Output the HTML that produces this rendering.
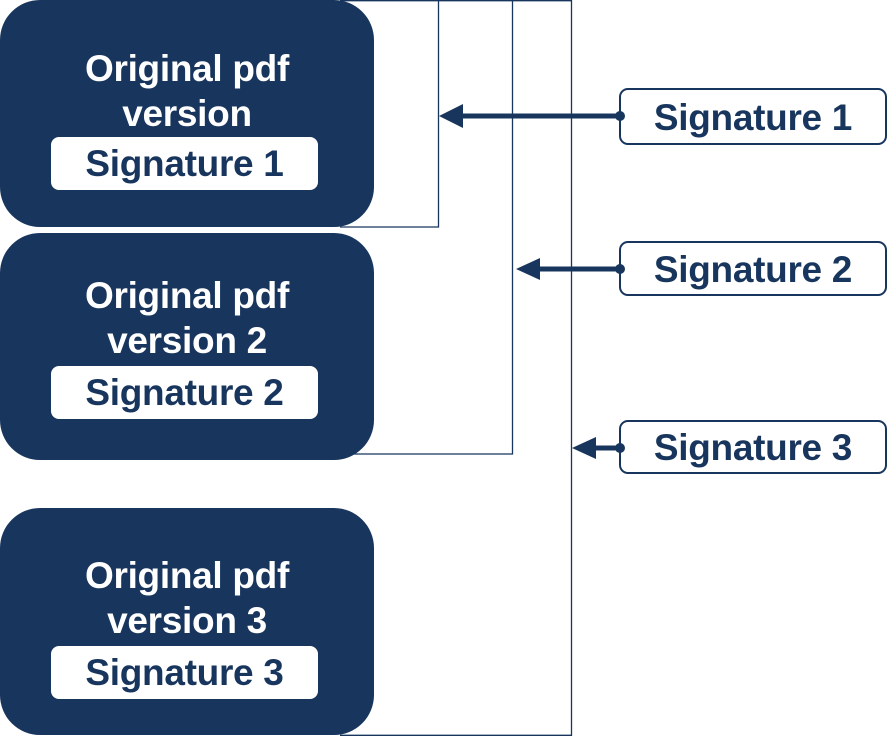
<!DOCTYPE html>
<html><head><style>
body{margin:0;width:889px;height:736px;background:#fff;overflow:hidden;position:relative;font-family:"Liberation Sans",sans-serif}
.b{position:absolute;left:0;width:374px;height:227px;background:#18365d;border-radius:40px;color:#fff;font-weight:bold;font-size:37px;text-align:center;line-height:45px;letter-spacing:-0.3px}
.b .t{position:absolute;top:46px;left:0;right:0}
.w{position:absolute;left:51px;width:267px;height:53px;background:#fff;border-radius:8px;color:#18365d;line-height:54px;font-size:37px}
.r{position:absolute;left:619px;width:268px;box-sizing:border-box;border:2px solid #18365d;border-radius:9px;color:#18365d;font-weight:bold;font-size:37px;text-align:center;letter-spacing:-0.3px}
</style></head><body>
<svg width="889" height="736" style="position:absolute;left:0;top:0">
<g stroke="#18365d" stroke-width="1.3" fill="none">
<path d="M340 0.7H571.5V735.3H340"/>
<path d="M438.5 0V227H340"/>
<path d="M512.5 0V454H340"/>
</g>
<g stroke="#18365d" stroke-width="5">
<line x1="620" y1="116" x2="458" y2="116"/>
<line x1="620" y1="269" x2="532" y2="269"/>
<line x1="620" y1="448" x2="588" y2="448"/>
</g>
<g fill="#18365d">
<polygon points="439,116 463,104 463,128"/>
<polygon points="516,269 540,258 540,280"/>
<polygon points="572,448 596,437 596,459"/>
<circle cx="620" cy="116" r="5"/><circle cx="620" cy="269" r="5"/><circle cx="620" cy="448" r="5"/>
</g>
</svg>
<div class="b" style="top:0"><div class="t">Original pdf<br>version</div><div class="w" style="top:137px">Signature 1</div></div>
<div class="b" style="top:233px"><div class="t" style="top:40px">Original pdf<br>version 2</div><div class="w" style="top:133px">Signature 2</div></div>
<div class="b" style="top:508px"><div class="t" style="top:45px">Original pdf<br>version 3</div><div class="w" style="top:138px">Signature 3</div></div>
<div class="r" style="top:88px;height:57px;line-height:55px">Signature 1</div>
<div class="r" style="top:241px;height:55px;line-height:53px">Signature 2</div>
<div class="r" style="top:420px;height:54px;line-height:52px">Signature 3</div>
</body></html>
